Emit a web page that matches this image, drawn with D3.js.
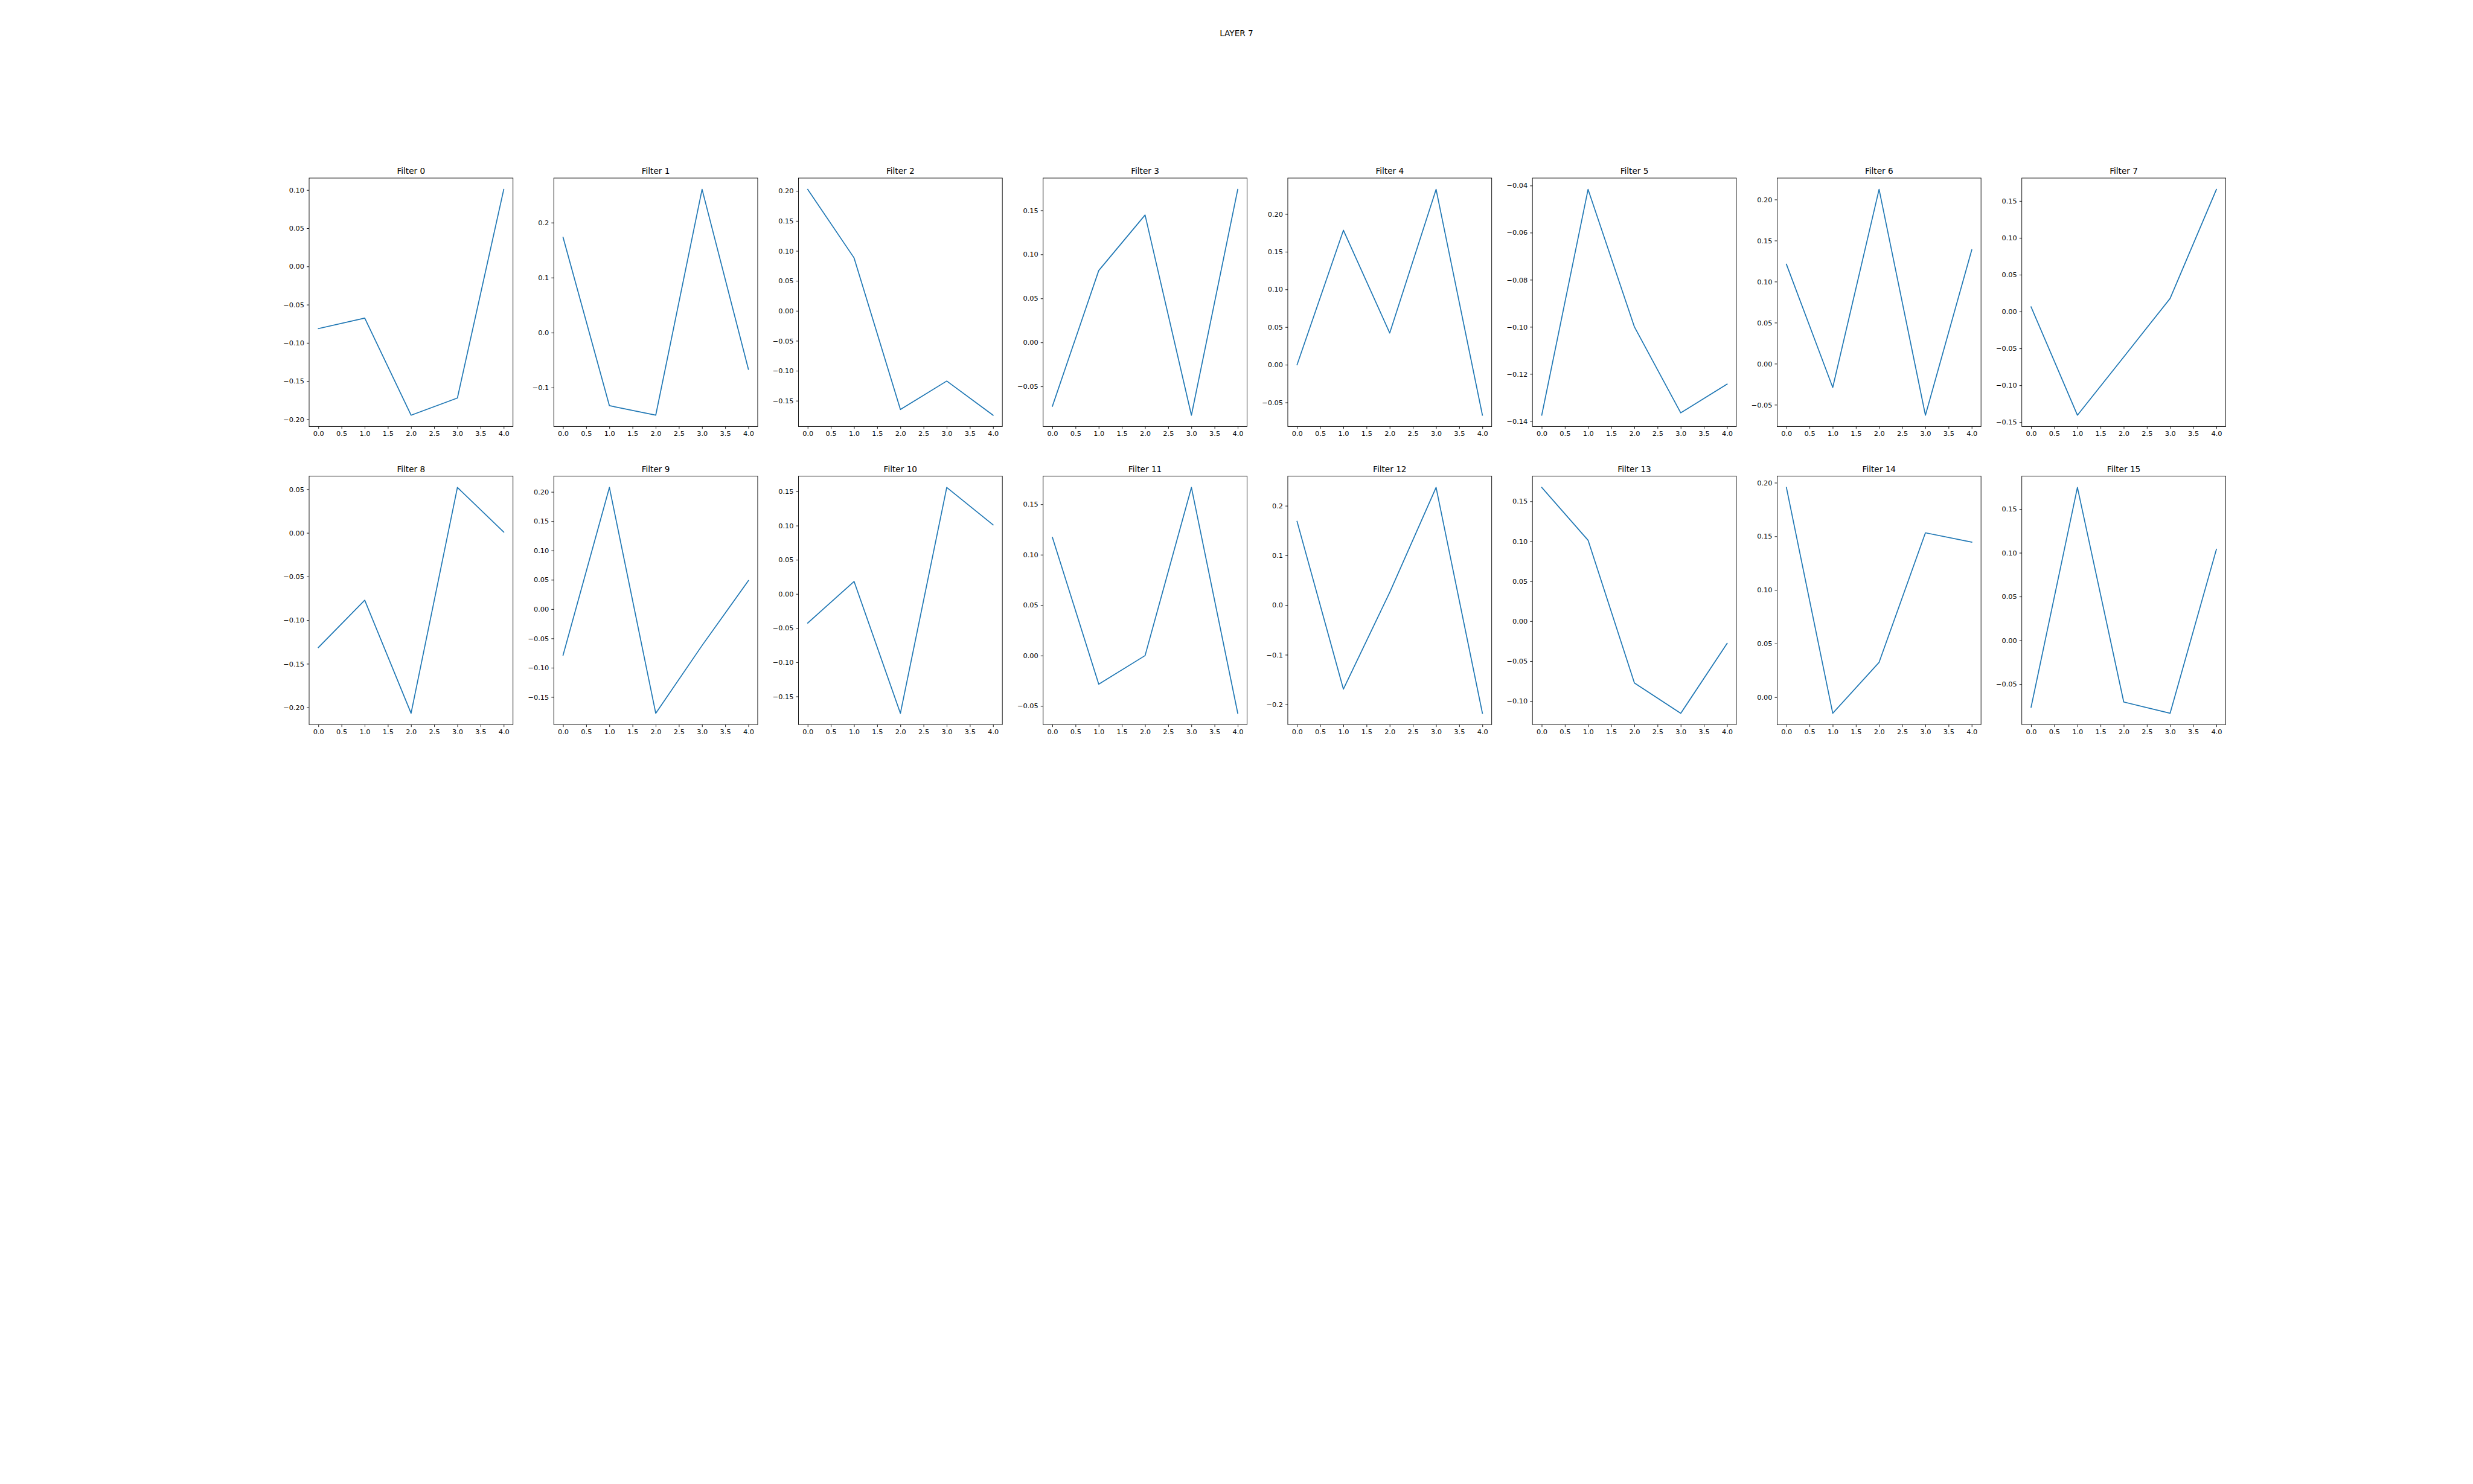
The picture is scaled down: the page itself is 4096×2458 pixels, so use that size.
<!DOCTYPE html>
<html>
<head>
<meta charset="utf-8">
<script src="https://cdn.jsdelivr.net/npm/d3@7"></script>
<style>
  html, body { margin: 0; padding: 0; background: #fff; }
  svg { display: block; }
  text { font-family: "DejaVu Sans", sans-serif; fill: #000; }
</style>
</head>
<body>
<script>
// ---- data ----
const suptitle = "LAYER 7";
const xValues = [0, 1, 2, 3, 4];
const xTicks = [0, 0.5, 1, 1.5, 2, 2.5, 3, 3.5, 4];

const filter0  = [-0.0813, -0.0676, -0.1946, -0.1721, 0.1009];
const filter1  = [0.1734, -0.1329, -0.1502, 0.2605, -0.0668];
const filter2  = [0.2027, 0.0884, -0.1646, -0.1171, -0.1741];
const filter3  = [-0.0724, 0.0817, 0.1448, -0.0826, 0.1739];
const filter4  = [0.0000, 0.1785, 0.0422, 0.2328, -0.0669];
const filter5  = [-0.1375, -0.0416, -0.1000, -0.1365, -0.1243];
const filter6  = [0.1212, -0.0289, 0.2124, -0.0627, 0.1388];
const filter7  = [0.0064, -0.1405, -0.0615, 0.0178, 0.1658];
const filter8  = [-0.1313, -0.0771, -0.2067, 0.0521, 0.0010];
const filter9  = [-0.0786, 0.2076, -0.1777, -0.0620, 0.0486];
const filter10 = [-0.0425, 0.0184, -0.1746, 0.1559, 0.1011];
const filter11 = [0.1172, -0.0283, 0.0000, 0.1667, -0.0572];
const filter12 = [0.1685, -0.1692, 0.0258, 0.2369, -0.2178];
const filter13 = [0.1674, 0.1013, -0.0773, -0.1153, -0.0279];
const filter14 = [0.1956, -0.0150, 0.0325, 0.1533, 0.1446];
const filter15 = [-0.0763, 0.1746, -0.0703, -0.0832, 0.1041];

const series = [filter0, filter1, filter2, filter3, filter4, filter5, filter6, filter7,
                filter8, filter9, filter10, filter11, filter12, filter13, filter14, filter15];
const titles = series.map((d, i) => "Filter " + i);

const yTicks = [
  [-0.20, -0.15, -0.10, -0.05, 0.00, 0.05, 0.10],
  [-0.1, 0.0, 0.1, 0.2],
  [-0.15, -0.10, -0.05, 0.00, 0.05, 0.10, 0.15, 0.20],
  [-0.05, 0.00, 0.05, 0.10, 0.15],
  [-0.05, 0.00, 0.05, 0.10, 0.15, 0.20],
  [-0.14, -0.12, -0.10, -0.08, -0.06, -0.04],
  [-0.05, 0.00, 0.05, 0.10, 0.15, 0.20],
  [-0.15, -0.10, -0.05, 0.00, 0.05, 0.10, 0.15],
  [-0.20, -0.15, -0.10, -0.05, 0.00, 0.05],
  [-0.15, -0.10, -0.05, 0.00, 0.05, 0.10, 0.15, 0.20],
  [-0.15, -0.10, -0.05, 0.00, 0.05, 0.10, 0.15],
  [-0.05, 0.00, 0.05, 0.10, 0.15],
  [-0.2, -0.1, 0.0, 0.1, 0.2],
  [-0.10, -0.05, 0.00, 0.05, 0.10, 0.15],
  [0.00, 0.05, 0.10, 0.15, 0.20],
  [-0.05, 0.00, 0.05, 0.10, 0.15]
];
const yTickDecimals = [2, 1, 2, 2, 2, 2, 2, 2, 2, 2, 2, 2, 1, 2, 2, 2];

(function () {
// ---- layout (reference pixel space 5000x3000, scaled by viewBox) ----
const W = 5000, H = 3000;
const nCols = 8, nRows = 4;
const gLeft = 0.125 * W, gRight = 0.9 * W, gTop = (1 - 0.88) * H, gBottom = (1 - 0.11) * H;
const wspace = 0.2, hspace = 0.2;
const cellW = (gRight - gLeft) / (nCols + (nCols - 1) * wspace);
const cellH = (gBottom - gTop) / (nRows + (nRows - 1) * hspace);
const pt = 100 / 72;

const svg = d3.select("body").append("svg")
  .attr("width", 4096).attr("height", 2458)
  .attr("viewBox", `0 0 ${W} ${H}`)
  .attr("preserveAspectRatio", "none");

svg.append("rect").attr("width", W).attr("height", H).attr("fill", "#fff");

svg.append("text")
  .attr("x", W / 2).attr("y", 72.7)
  .attr("text-anchor", "middle")
  .attr("font-size", 12 * pt)
  .text(suptitle);

series.forEach((vals, i) => {
  const col = i % nCols, row = Math.floor(i / nCols);
  const x0 = gLeft + col * cellW * (1 + wspace);
  const y0 = gTop + row * cellH * (1 + hspace);

  const g = svg.append("g").attr("transform", `translate(${x0},${y0})`);

  const xExt = d3.extent(xValues);
  const xPad = (xExt[1] - xExt[0]) * 0.05;
  const x = d3.scaleLinear().domain([xExt[0] - xPad, xExt[1] + xPad]).range([0, cellW]);
  const yExt = d3.extent(vals);
  const yPad = (yExt[1] - yExt[0]) * 0.05;
  const y = d3.scaleLinear().domain([yExt[0] - yPad, yExt[1] + yPad]).range([cellH, 0]);

  const line = d3.line().x((d, k) => x(xValues[k])).y(d => y(d));
  g.append("path")
    .datum(vals)
    .attr("d", line)
    .attr("fill", "none")
    .attr("stroke", "#1f77b4")
    .attr("stroke-width", 1.5 * pt)
    .attr("stroke-linejoin", "round")
    .attr("stroke-linecap", "square");

  const tickLen = 3.5 * pt, tickPad = 3.5 * pt;
  const fs = 10 * pt;

  const xAxis = d3.axisBottom(x).tickValues(xTicks).tickFormat(d3.format(".1f"))
    .tickSizeInner(tickLen).tickSizeOuter(0).tickPadding(tickPad);
  const gx = g.append("g").attr("transform", `translate(0,${cellH})`).call(xAxis);
  gx.select(".domain").remove();
  gx.selectAll("line").attr("stroke", "#000").attr("stroke-width", 0.8 * pt);
  gx.selectAll("text").attr("font-size", fs).attr("font-family", "DejaVu Sans").attr("fill", "#000");

  const yAxis = d3.axisLeft(y).tickValues(yTicks[i]).tickFormat(d3.format("." + yTickDecimals[i] + "f"))
    .tickSizeInner(tickLen).tickSizeOuter(0).tickPadding(tickPad);
  const gy = g.append("g").call(yAxis);
  gy.select(".domain").remove();
  gy.selectAll("line").attr("stroke", "#000").attr("stroke-width", 0.8 * pt);
  gy.selectAll("text").attr("font-size", fs).attr("font-family", "DejaVu Sans").attr("fill", "#000");

  g.append("rect")
    .attr("x", 0).attr("y", 0).attr("width", cellW).attr("height", cellH)
    .attr("fill", "none").attr("stroke", "#000").attr("stroke-width", 0.8 * pt);

  g.append("text")
    .attr("x", cellW / 2).attr("y", -6 * pt)
    .attr("text-anchor", "middle")
    .attr("font-size", 12 * pt)
    .text(titles[i]);
});
})();
</script>
</body>
</html>
